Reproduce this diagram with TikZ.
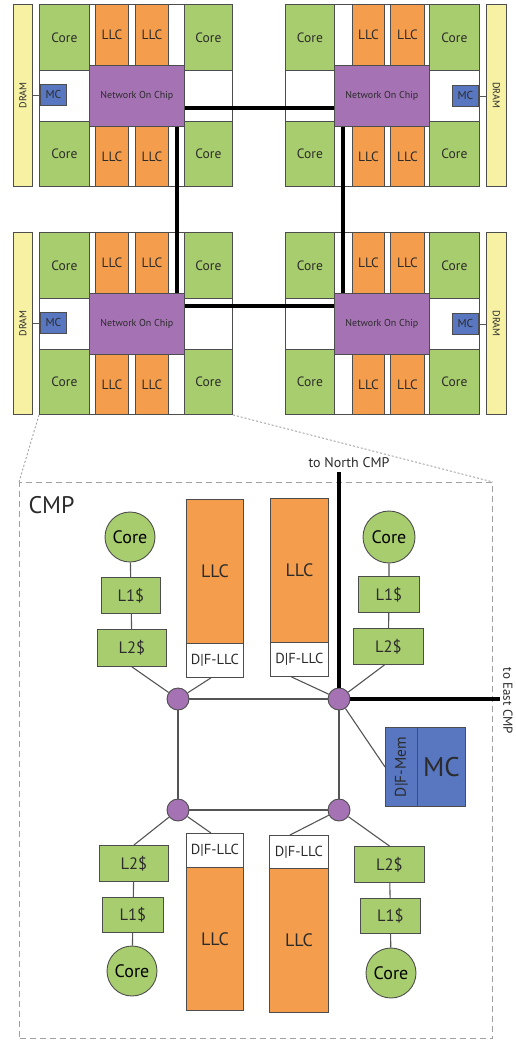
\documentclass[tikz,border=0pt]{standalone}
\usepackage{fontspec}
\setmainfont{PT Sans}
\usetikzlibrary{calc}
\definecolor{cgreen}{HTML}{A8CD6E}
\definecolor{corange}{HTML}{F49D4C}
\definecolor{cpurple}{HTML}{A572B4}
\definecolor{cblue}{HTML}{5877C0}
\definecolor{cyellow}{HTML}{F6F1A3}
\definecolor{cborder}{HTML}{4D4D4D}
\definecolor{cline}{HTML}{555555}
\definecolor{ctext}{HTML}{2B2B2B}
\definecolor{cdash}{HTML}{A0A0A0}
\tikzset{
  blk/.style={draw=cborder, line width=0.9pt, inner sep=0pt, anchor=north west, text=ctext},
  corebox/.style={blk, fill=cgreen},
  llcbox/.style={blk, fill=corange},
  nocbox/.style={blk, fill=cpurple},
  mcbox/.style={blk, fill=cblue},
  drambox/.style={blk, fill=cyellow},
  chipbox/.style={blk, fill=white},
  dfbox/.style={blk, fill=white},
  wire/.style={draw=cline, line width=1.1pt},
  biglink/.style={draw=black, line width=3.6pt},
  router/.style={circle, draw=cborder, fill=cpurple, minimum size=22pt, inner sep=0pt, line width=0.9pt},
  corecirc/.style={circle, draw=cborder, fill=cgreen, inner sep=0pt, line width=0.9pt, text=black, font=\fontsize{18}{18}\selectfont},
  zoomline/.style={draw=cdash, line width=0.9pt, dash pattern=on 2pt off 2pt},
}
\newcommand\bx[7]{\node[#1, minimum width=#5pt, minimum height=#6pt] (#2) at (#3,#4) {#7};}
\newcommand\sm{\fontsize{13.5}{13.5}\selectfont}
\newcommand\tn{\fontsize{10}{10}\selectfont}
\newcommand\lone{\fontsize{16.5}{16.5}\selectfont}
\newcommand\llcf{\fontsize{18}{18}\selectfont}
\newcommand\dff{\fontsize{14.5}{14.5}\selectfont}
% left chip: #1 prefix, #2 X, #3 Y
\newcommand\chipL[3]{%
  \bx{chipbox}{#1chip}{#2}{#3}{193}{182}{}
  \bx{corebox}{#1ca}{#2}{#3}{50}{66}{\sm Core}
  \bx{corebox}{#1cb}{#2+145}{#3}{48}{66}{\sm Core}
  \bx{corebox}{#1cc}{#2}{#3+117}{50}{65}{\sm Core}
  \bx{corebox}{#1cd}{#2+145}{#3+117}{48}{65}{\sm Core}
  \bx{llcbox}{#1la}{#2+56}{#3}{33}{61}{\sm LLC}
  \bx{llcbox}{#1lb}{#2+96}{#3}{33}{61}{\sm LLC}
  \bx{llcbox}{#1lc}{#2+56}{#3+122}{33}{60}{\sm LLC}
  \bx{llcbox}{#1ld}{#2+96}{#3+122}{33}{60}{\sm LLC}
  \bx{nocbox}{#1noc}{#2+50}{#3+61}{95}{61}{\tn Network On Chip}
  \bx{mcbox}{#1mc}{#2+1}{#3+80}{26}{21}{\fontsize{11.5}{11.5}\selectfont MC}
  \bx{drambox}{#1dram}{#2-26}{#3}{19}{182}{\rotatebox{90}{\tn DRAM}}
  \draw[wire, line width=0.8pt] (#1dram.east |- #1mc.west) -- (#1mc.west);
}
\newcommand\chipR[3]{%
  \bx{chipbox}{#1chip}{#2}{#3}{194}{182}{}
  \bx{corebox}{#1ca}{#2}{#3}{49}{66}{\sm Core}
  \bx{corebox}{#1cb}{#2+144}{#3}{50}{66}{\sm Core}
  \bx{corebox}{#1cc}{#2}{#3+117}{49}{65}{\sm Core}
  \bx{corebox}{#1cd}{#2+144}{#3+117}{50}{65}{\sm Core}
  \bx{llcbox}{#1la}{#2+67}{#3}{32}{61}{\sm LLC}
  \bx{llcbox}{#1lb}{#2+105}{#3}{34}{61}{\sm LLC}
  \bx{llcbox}{#1lc}{#2+67}{#3+122}{32}{60}{\sm LLC}
  \bx{llcbox}{#1ld}{#2+105}{#3+122}{34}{60}{\sm LLC}
  \bx{nocbox}{#1noc}{#2+49}{#3+61}{95}{61}{\tn Network On Chip}
  \bx{mcbox}{#1mc}{#2+167}{#3+81}{26}{21}{\fontsize{11.5}{11.5}\selectfont MC}
  \bx{drambox}{#1dram}{#2+201}{#3}{20}{182}{\rotatebox{-90}{\tn DRAM}}
  \draw[wire, line width=0.8pt] (#1dram.west |- #1mc.east) -- (#1mc.east);
}
\begin{document}
\begin{tikzpicture}[x=1pt, y=-1pt]
\useasboundingbox (0,0) rectangle (516,1042);
% ---------- top: four chips ----------
\chipL{tl}{39}{4}
\chipR{tr}{285}{4}
\chipL{bl}{39}{232}
\chipR{br}{285}{232}
\coordinate (hyA) at (0,108);
\coordinate (hyB) at (0,306);
\coordinate (vxA) at (177,0);
\coordinate (vxB) at (343,0);
\draw[biglink] (tlnoc.east |- hyA) -- (trnoc.west |- hyA);
\draw[biglink] (blnoc.east |- hyB) -- (brnoc.west |- hyB);
\draw[biglink] (tlnoc.south -| vxA) -- (blnoc.north -| vxA);
\draw[biglink] (trnoc.south -| vxB) -- (brnoc.north -| vxB);
% ---------- CMP detail ----------
\node[draw=cdash, line width=1pt, dash pattern=on 6pt off 4pt, minimum width=473pt, minimum height=556pt, inner sep=0pt, anchor=north west] (cmp) at (19,482) {};
\draw[zoomline] (blchip.south west) -- (cmp.north west);
\draw[zoomline] (blchip.south east) -- (cmp.north east);
\node[anchor=west, text=ctext, font=\fontsize{24}{24}\selectfont] (cmplabel) at (25,505) {CMP};
% routers
\node[router] (r1) at (178,699) {};
\node[router] (r2) at (339,699) {};
\node[router] (r3) at (178,810) {};
\node[router] (r4) at (339,810) {};
% top-left group
\node[corecirc, minimum size=50pt] (c1) at (130,537) {Core};
\bx{corebox}{a1}{101}{577}{59}{36}{\lone L1\$}
\bx{corebox}{a2}{97}{629}{69}{37}{\lone L2\$}
\bx{llcbox}{llc1}{186}{499}{57}{144}{\llcf LLC}
\bx{dfbox}{df1}{186}{643}{57}{34}{\dff D|F-LLC}
% top-right group
\node[corecirc, minimum size=52pt] (c2) at (389,537) {Core};
\bx{corebox}{b1}{358}{576}{61}{36}{\lone L1\$}
\bx{corebox}{b2}{353}{628}{70}{36}{\lone L2\$}
\bx{llcbox}{llc2}{270}{498}{58}{144}{\llcf LLC}
\bx{dfbox}{df2}{270}{642}{58}{34}{\dff D|F-LLC}
% bottom-left group
\bx{corebox}{d2}{99}{845}{69}{36}{\lone L2\$}
\bx{corebox}{d1}{102}{897}{61}{35}{\lone L1\$}
\node[corecirc, minimum size=50pt] (c3) at (132,971) {Core};
\bx{dfbox}{df3}{186}{833}{57}{34}{\dff D|F-LLC}
\bx{llcbox}{llc3}{186}{867}{57}{143}{\llcf LLC}
% bottom-right group
\bx{corebox}{e2}{354}{846}{70}{36}{\lone L2\$}
\bx{corebox}{e1}{360}{898}{60}{35}{\lone L1\$}
\node[corecirc, minimum size=50pt] (c4) at (391,973) {Core};
\bx{dfbox}{df4}{269}{835}{59}{33}{\dff D|F-LLC}
\bx{llcbox}{llc4}{269}{868}{59}{144}{\llcf LLC}
% memory controller
\bx{mcbox}{dfm}{385}{727}{32}{79}{\rotatebox{90}{\fontsize{15.5}{15.5}\selectfont D|F-Mem}}
\bx{mcbox}{mc}{417}{727}{48}{79}{\fontsize{27}{27}\selectfont MC}
% external links
\coordinate (north) at (339,472);
\coordinate (east) at (500,699);
\node[text=ctext, font=\fontsize{14}{14}\selectfont] (tonorth) at (349,463) {to North CMP};
\node[text=ctext, font=\fontsize{13}{13}\selectfont, rotate=-90] (toeast) at (508,701) {to East CMP};
% connectors
\draw[wire] (c1) -- (a1);
\draw[wire] (a1) -- (a2);
\draw[wire] (c2) -- (b1);
\draw[wire] (b1) -- (b2);
\draw[wire] (c3) -- (d1);
\draw[wire] (d1) -- (d2);
\draw[wire] (c4) -- (e1);
\draw[wire] (e1) -- (e2);
\draw[wire] (a2.south) -- (r1);
\draw[wire] ($(df1.south)+(-4,0)$) -- (r1);
\draw[wire] ($(b2.south)+(-4,0)$) -- (r2);
\draw[wire] ($(df2.south)+(-8,0)$) -- (r2);
\draw[wire] (d2.north) -- (r3);
\draw[wire] ($(df3.north)+(-4,0)$) -- (r3);
\draw[wire] (e2.north) -- (r4);
\draw[wire] ($(df4.north)+(-9,0)$) -- (r4);
\draw[wire] (r1) -- (r2);
\draw[wire] (r1) -- (r3);
\draw[wire] (r3) -- (r4);
\draw[wire] (r2) -- (r4);
\draw[wire] (r2) -- (dfm.west);
\draw[biglink] (north) -- (r2);
\draw[biglink] (r2) -- (east);
\end{tikzpicture}
\end{document}
